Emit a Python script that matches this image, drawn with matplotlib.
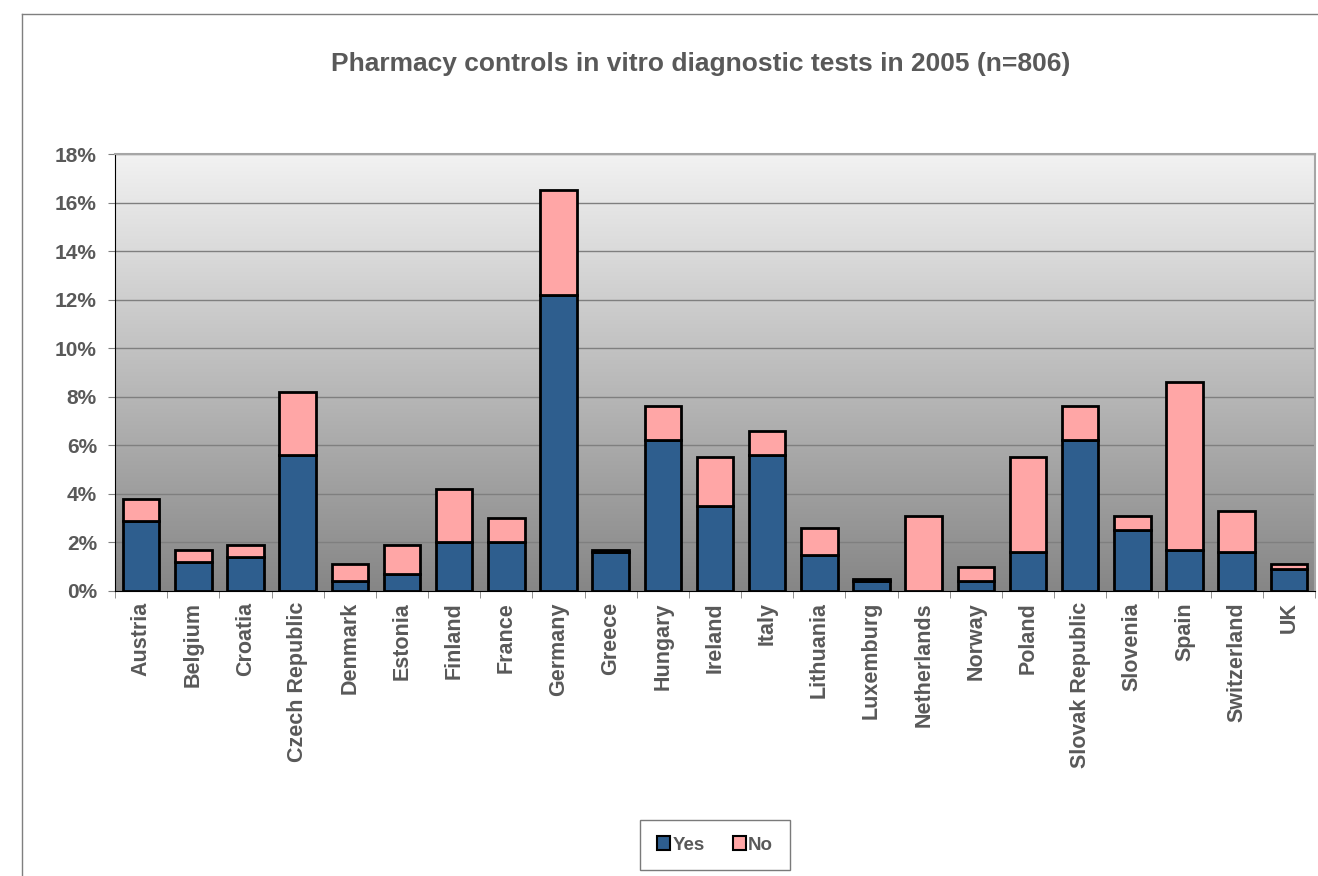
import numpy as np
import matplotlib
matplotlib.use('Agg')
import matplotlib.pyplot as plt
from matplotlib.lines import Line2D
from matplotlib.patches import Patch
from matplotlib.ticker import PercentFormatter, FixedLocator

countries = ['Austria', 'Belgium', 'Croatia', 'Czech Republic', 'Denmark', 'Estonia',
             'Finland', 'France', 'Germany', 'Greece', 'Hungary', 'Ireland', 'Italy',
             'Lithuania', 'Luxemburg', 'Netherlands', 'Norway', 'Poland',
             'Slovak Republic', 'Slovenia', 'Spain', 'Switzerland', 'UK']
yes_pct = [2.9, 1.2, 1.4, 5.6, 0.4, 0.7, 2.0, 2.0, 12.2, 1.6, 6.2, 3.5, 5.6,
           1.5, 0.4, 0.0, 0.4, 1.6, 6.2, 2.5, 1.7, 1.6, 0.9]
no_pct = [0.9, 0.5, 0.5, 2.6, 0.7, 1.2, 2.2, 1.0, 4.3, 0.1, 1.4, 2.0, 1.0,
          1.1, 0.1, 3.1, 0.6, 3.9, 1.4, 0.6, 6.9, 1.7, 0.2]

YES_COLOR = '#2E5E8E'
NO_COLOR = '#FFA6A6'
TEXT = '#595959'

plt.rcParams['font.family'] = ['Liberation Sans', 'DejaVu Sans']

fig = plt.figure(figsize=(13.18, 8.76), dpi=100)
ax = fig.add_axes([115 / 1318, 1 - 591 / 876, 1200 / 1318, 437 / 876])

# gradient background of the plot area
grad = np.linspace(0, 1, 256).reshape(-1, 1)
ax.imshow(grad, extent=[0, 1, 0, 1], transform=ax.transAxes, aspect='auto',
          cmap=matplotlib.colors.LinearSegmentedColormap.from_list('bg', ['#F2F2F2', '#868686']),
          zorder=0)

x = np.arange(len(countries))
ax.bar(x, yes_pct, width=0.7, color=YES_COLOR, edgecolor='black', linewidth=2, zorder=3)
ax.bar(x, no_pct, width=0.7, bottom=yes_pct, color=NO_COLOR, edgecolor='black',
       linewidth=2, zorder=3)

ax.set_xlim(-0.5, len(countries) - 0.5)
ax.set_ylim(0, 18)
ax.set_yticks(np.arange(0, 19, 2))
ax.yaxis.set_major_formatter(PercentFormatter(decimals=0))
ax.grid(axis='y', color='#7F7F7F', linewidth=1, zorder=1)

ax.set_xticks(x)
ax.set_xticklabels(countries, rotation=90, fontsize=15.5, fontweight='bold', color=TEXT)
ax.xaxis.set_minor_locator(FixedLocator(np.arange(-0.5, len(countries), 1)))
ax.tick_params(axis='x', which='major', length=0, pad=8)
ax.tick_params(axis='x', which='minor', length=5, color='#7F7F7F')
ax.tick_params(axis='y', length=5, color='#7F7F7F', labelsize=15, labelcolor=TEXT, pad=8)
for lab in ax.get_yticklabels():
    lab.set_fontweight('bold')

ax.spines['left'].set_color('black')
ax.spines['bottom'].set_color('black')
ax.spines['top'].set_color('#A6A6A6')
ax.spines['right'].set_color('#A6A6A6')
ax.spines['top'].set_linewidth(1.5)
ax.spines['right'].set_linewidth(1.5)

fig.text(701 / 1318, 1 - 64 / 876, 'Pharmacy controls in vitro diagnostic tests in 2005 (n=806)',
         ha='center', va='center', fontsize=19, fontweight='bold', color=TEXT)

handles = [Patch(facecolor=YES_COLOR, edgecolor='black', linewidth=1.5, label='Yes'),
           Patch(facecolor=NO_COLOR, edgecolor='black', linewidth=1.5, label='No')]
leg = fig.legend(handles=handles, loc='center', bbox_to_anchor=(715 / 1318, 1 - 845 / 876),
                 ncol=2, frameon=True, fancybox=False, handlelength=0.7, handleheight=0.7,
                 handletextpad=0.1, columnspacing=1.5, borderpad=0.9,
                 prop={'weight': 'bold', 'size': 13.5})
leg.get_frame().set_edgecolor('#595959')
leg.get_frame().set_linewidth(1)
for t in leg.get_texts():
    t.set_color(TEXT)

# outer chart border (partly visible)
fig.add_artist(Line2D([22 / 1318, 1], [1 - 14 / 876, 1 - 14 / 876], color='#7F7F7F', linewidth=1))
fig.add_artist(Line2D([22 / 1318, 22 / 1318], [0, 1 - 14 / 876], color='#7F7F7F', linewidth=1))

fig.savefig('out.png', dpi=100)
